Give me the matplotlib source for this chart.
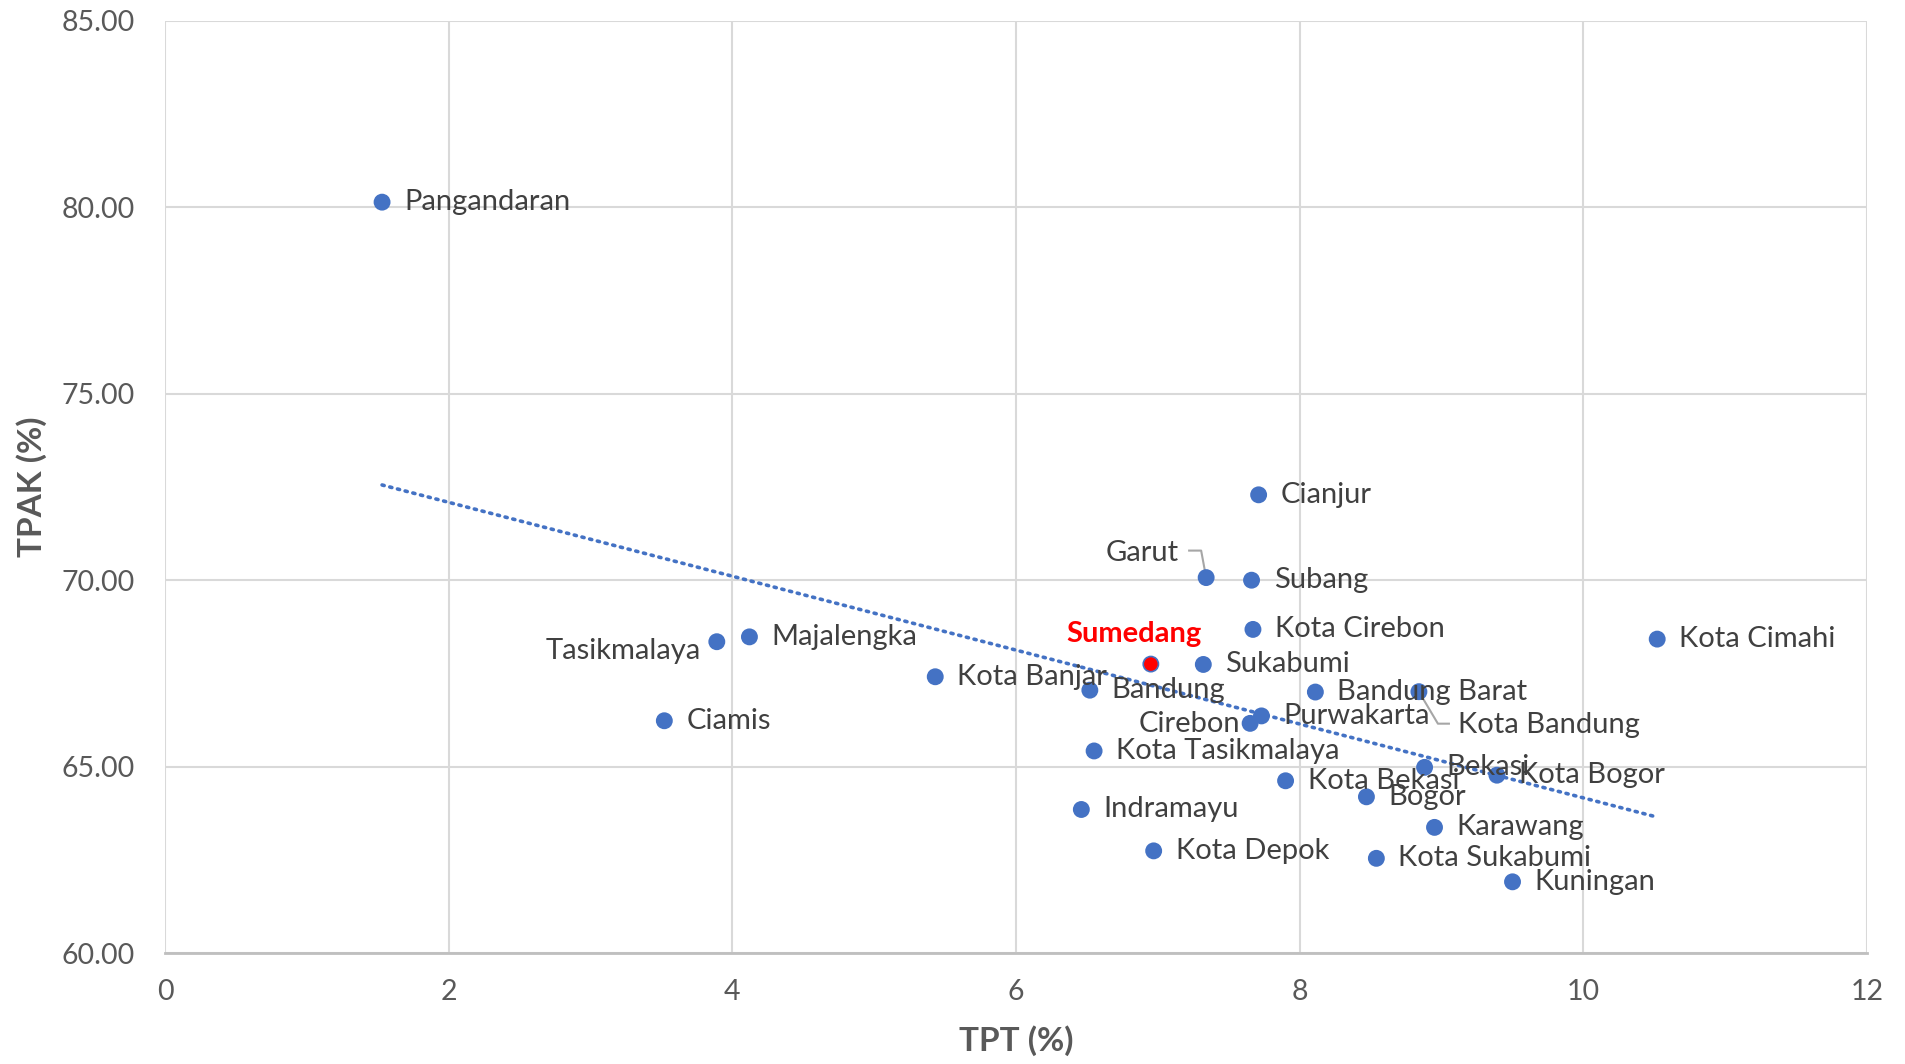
import numpy as np
import matplotlib
matplotlib.use('Agg')
import matplotlib.pyplot as plt
from matplotlib.transforms import IdentityTransform

# data: TPT (%) vs TPAK (%) per kabupaten/kota
names = ['Pangandaran', 'Cianjur', 'Garut', 'Subang', 'Kota Cirebon', 'Kota Cimahi',
         'Tasikmalaya', 'Majalengka', 'Sumedang', 'Sukabumi', 'Kota Banjar', 'Bandung',
         'Bandung Barat', 'Kota Bandung', 'Purwakarta', 'Cirebon', 'Ciamis',
         'Kota Tasikmalaya', 'Bekasi', 'Kota Bogor', 'Kota Bekasi', 'Bogor',
         'Indramayu', 'Karawang', 'Kota Depok', 'Kota Sukabumi', 'Kuningan']
tpt = [1.53, 7.71, 7.34, 7.66, 7.67, 10.52,
       3.89, 4.12, 6.95, 7.32, 5.43, 6.52,
       8.11, 8.84, 7.73, 7.65, 3.52,
       6.55, 8.88, 9.39, 7.90, 8.47,
       6.46, 8.95, 6.97, 8.54, 9.50]
tpak = [80.14, 72.29, 70.07, 70.00, 68.68, 68.42,
        68.35, 68.48, 67.75, 67.74, 67.41, 67.05,
        67.00, 67.01, 66.36, 66.16, 66.23,
        65.42, 64.98, 64.77, 64.62, 64.19,
        63.85, 63.37, 62.74, 62.54, 61.91]
highlight = 'Sumedang'

x_ticks = [0, 2, 4, 6, 8, 10, 12]
y_ticks = [60, 65, 70, 75, 80, 85]

# label placement (pixels from the point), default is right of the point
label_pos = {
    'Garut': (-27, 25, 'right'),
    'Tasikmalaya': (-16, -9, 'right'),
    'Sumedang': (-17, 30, 'center'),
    'Kota Bandung': (39, -33, 'left'),
    'Cirebon': (-10, -1, 'right'),
}
leaders = {
    'Garut': [(0, 0), (-5, 27), (-17, 27)],
    'Kota Bandung': [(0, 0), (19, -32), (30, -32)],
}

blue = '#4472C4'
grey_txt = '#404040'
tick_col = '#595959'

fig = plt.figure(figsize=(19.06, 10.64), dpi=100)
ax = fig.add_axes([0.0866, 0.1043, 0.893, 0.876])

ax.set_xlim(0, 12)
ax.set_ylim(60, 85)
ax.set_xticks(x_ticks)
ax.set_yticks(y_ticks)
ax.set_yticklabels(['%.2f' % v for v in y_ticks])
ax.grid(True, color='#D9D9D9', linewidth=1.5)
ax.set_axisbelow(True)
for s in ['top', 'right', 'left']:
    ax.spines[s].set_visible(False)
ax.spines['bottom'].set_color('#BFBFBF')
ax.spines['bottom'].set_linewidth(2)
ax.tick_params(length=0, labelsize=20.5, colors=tick_col)
ax.tick_params(axis='x', pad=19)
ax.tick_params(axis='y', pad=22)
for lab in ax.get_xticklabels() + ax.get_yticklabels():
    lab.set_fontfamily('Lato')

ax.set_xlabel('TPT (%)', fontsize=24, fontweight='bold', color=tick_col,
              family='Lato', labelpad=14)
ax.set_ylabel('TPAK (%)', fontsize=24, fontweight='bold', color=tick_col,
              family='Lato', labelpad=10)

# linear trendline
k, b = np.polyfit(tpt, tpak, 1)
xs = np.array([min(tpt), max(tpt)])
ax.plot(xs, k * xs + b, color=blue, linewidth=2.6,
        linestyle=(0, (0.6, 1.6)), dash_capstyle='round', zorder=2)

cols = ['red' if n == highlight else blue for n in names]
ax.scatter(tpt, tpak, s=120, c=cols, edgecolors=blue, linewidths=1.2, zorder=3)

fig.canvas.draw()
for n, x, y in zip(names, tpt, tpak):
    dx, dy, ha = label_pos.get(n, (22, 0, 'left'))
    kw = dict(fontsize=21, color=grey_txt, family='Lato')
    if n == highlight:
        kw.update(color='red', fontweight='bold')
    ax.annotate(n, (x, y), xytext=(dx, dy), textcoords='offset pixels',
                ha=ha, va='center', zorder=4, **kw)
    if n in leaders:
        px, py = ax.transData.transform((x, y))
        pts = np.array([(px + a, py + c) for a, c in leaders[n]])
        ax.plot(pts[:, 0], pts[:, 1], color='#A6A6A6', linewidth=1.5,
                transform=IdentityTransform(), zorder=2)

fig.savefig('out.png', dpi=100)
